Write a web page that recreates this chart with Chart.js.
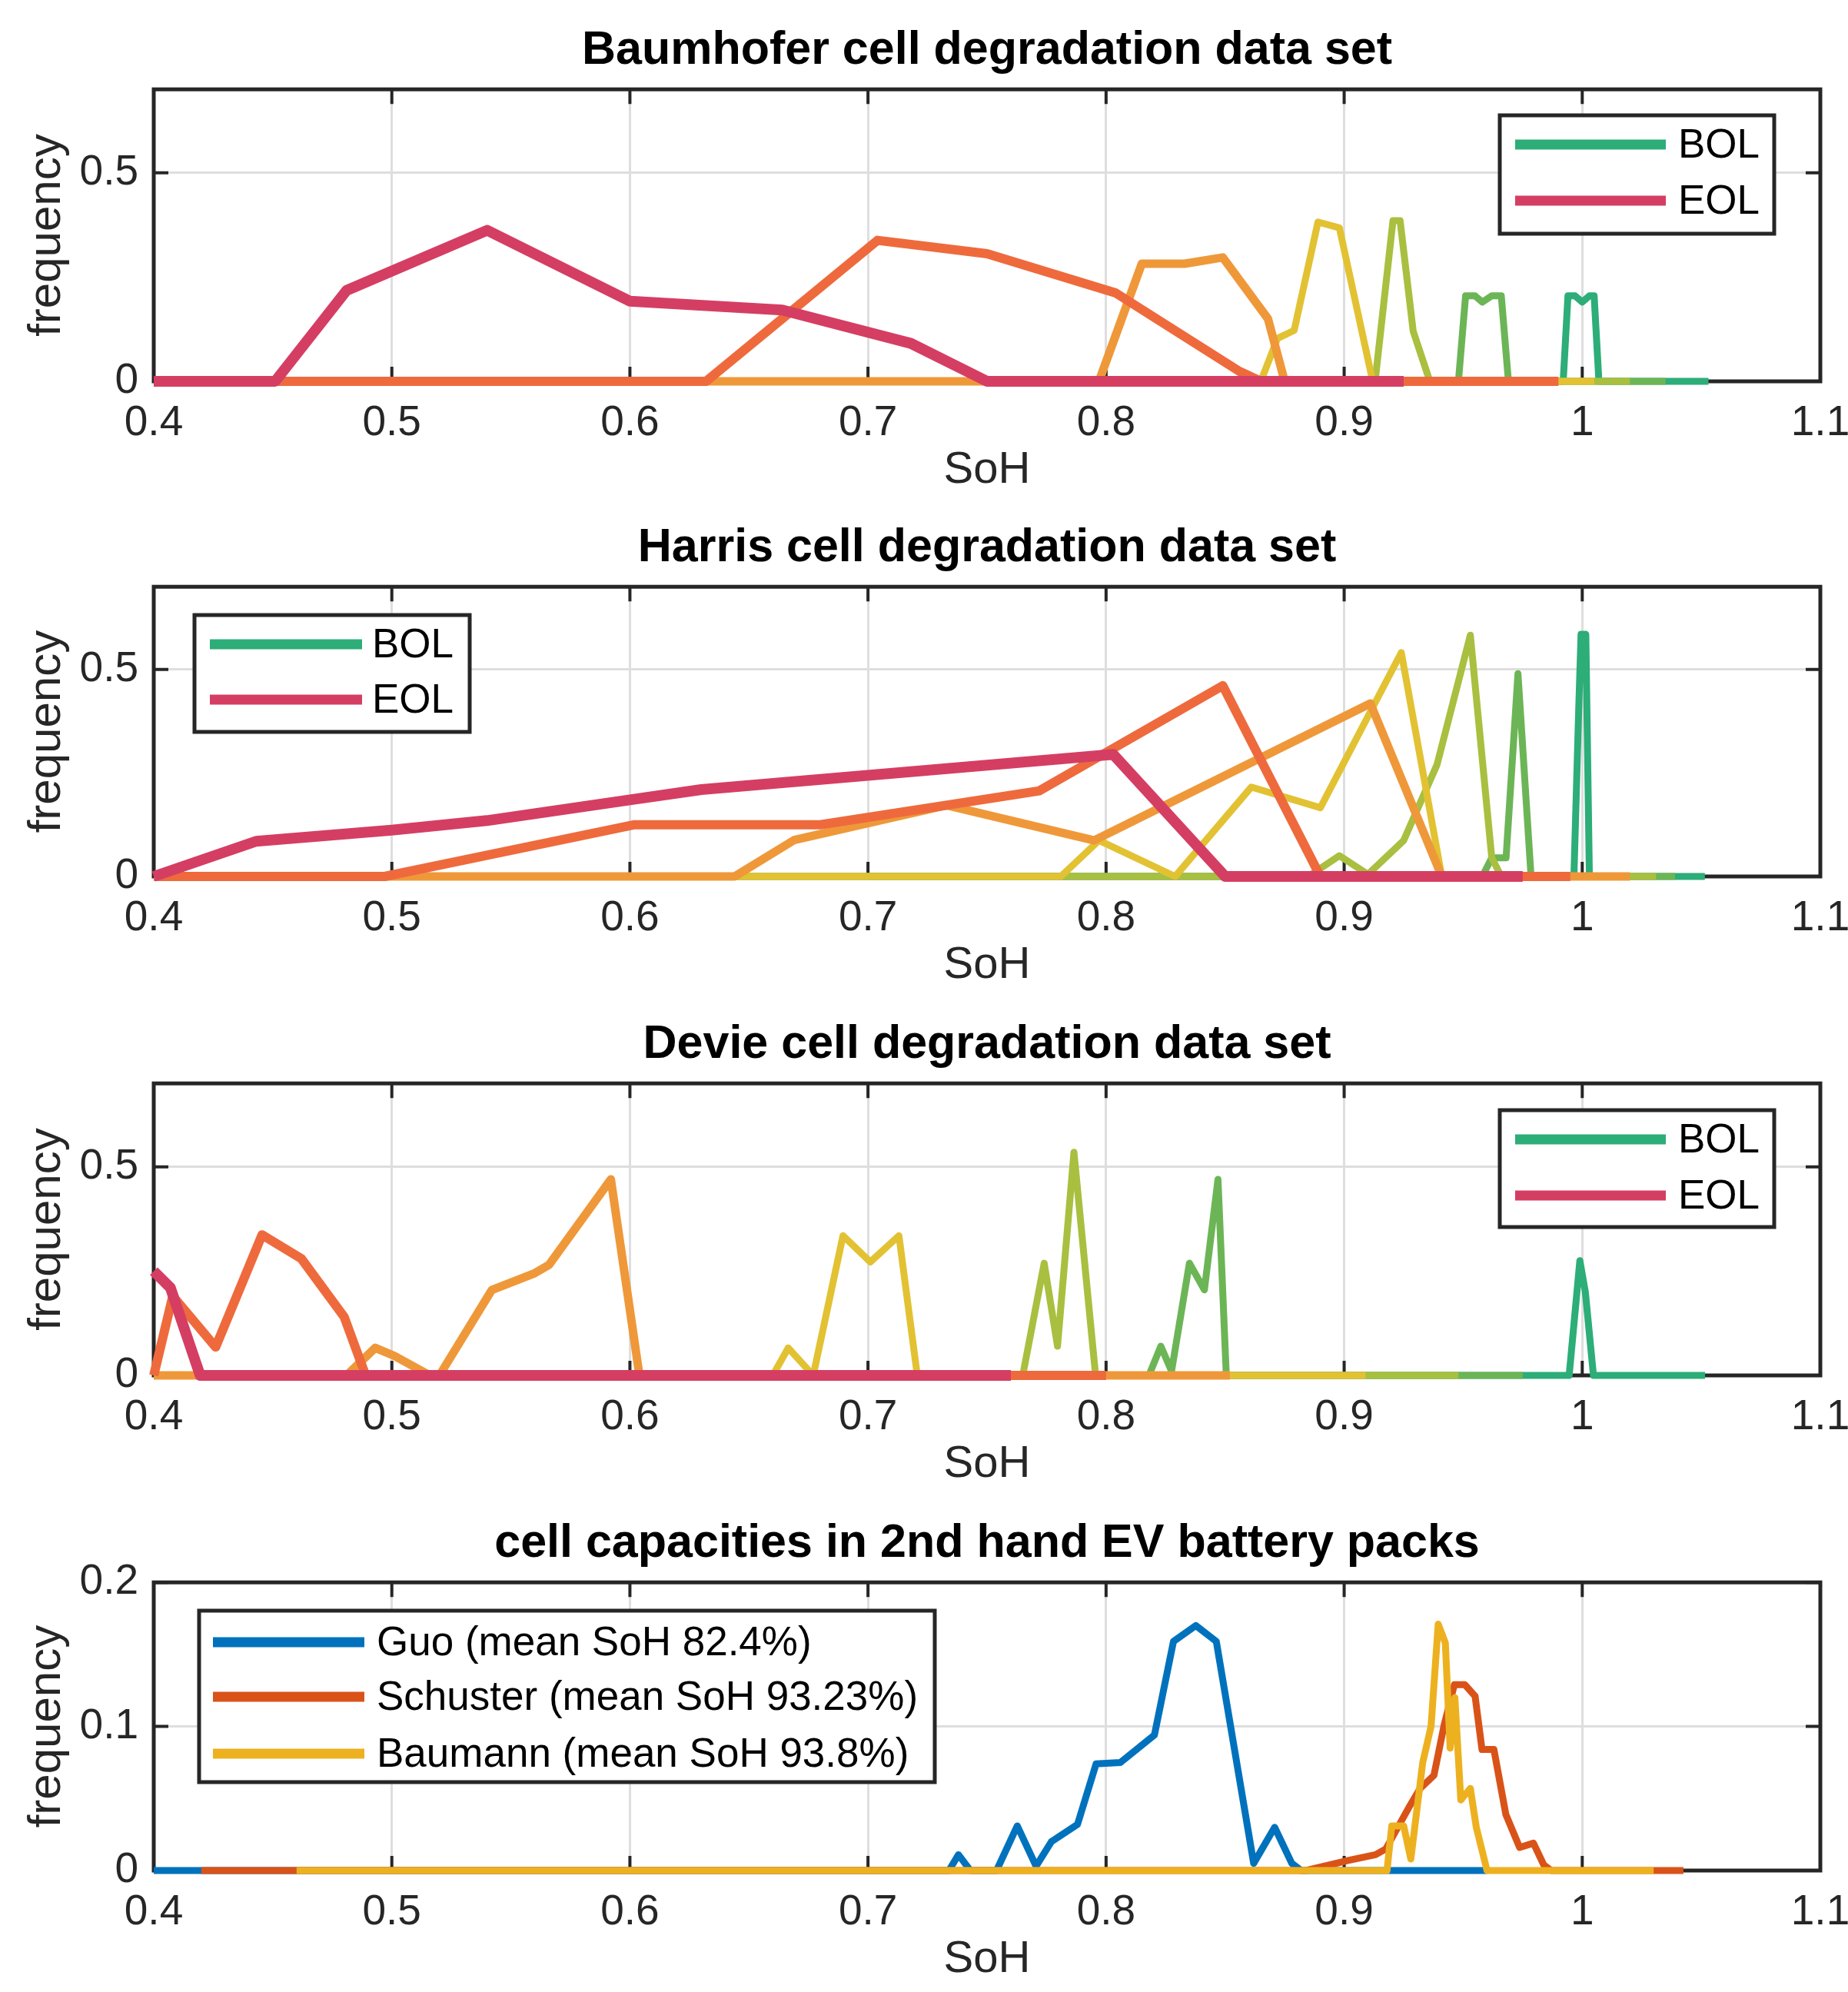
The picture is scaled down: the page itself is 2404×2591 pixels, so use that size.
<!DOCTYPE html>
<html>
<head>
<meta charset="utf-8">
<script src="https://cdn.jsdelivr.net/npm/chart.js@4/dist/chart.umd.min.js"></script>
<style>
html, body { margin:0; padding:0; background:#ffffff; overflow:hidden; width:2404px; height:2591px; }
canvas { position:absolute; left:0; }
</style>
</head>
<body>
<canvas id="c1" width="2404" height="700" style="top:0px"></canvas>
<canvas id="c2" width="2404" height="700" style="top:647px"></canvas>
<canvas id="c3" width="2404" height="700" style="top:1293px"></canvas>
<canvas id="c4" width="2404" height="700" style="top:1942px"></canvas>
<script>
// ================= DATA =================
const xTickValues = [0.4, 0.5, 0.6, 0.7, 0.8, 0.9, 1.0, 1.1];
const xTickLabels = ['0.4', '0.5', '0.6', '0.7', '0.8', '0.9', '1', '1.1'];
const yTickValuesDeg = [0, 0.5];
const yTickLabelsDeg = ['0', '0.5'];
const yTickValuesEV = [0, 0.1, 0.2];
const yTickLabelsEV = ['0', '0.1', '0.2'];

const panelTitles = [
  'Baumhofer cell degradation data set',
  'Harris cell degradation data set',
  'Devie cell degradation data set',
  'cell capacities in 2nd hand EV battery packs'
];
const xAxisLabel = 'SoH';
const yAxisLabel = 'frequency';
const degLegendLabels = ['BOL', 'EOL'];
const evSeriesLabels = ['Guo (mean SoH 82.4%)', 'Schuster (mean SoH 93.23%)', 'Baumann (mean SoH 93.8%)'];

// --- Baumhofer ---
const baumEOL_x = [0.400, 0.451, 0.481, 0.540, 0.600, 0.664, 0.718, 0.750, 0.925];
const baumEOL_y = [0, 0, 0.218, 0.362, 0.192, 0.171, 0.091, 0, 0];
const baumS2_x  = [0.420, 0.632, 0.704, 0.750, 0.804, 0.856, 0.865, 0.990];
const baumS2_y  = [0, 0, 0.338, 0.306, 0.212, 0.024, 0, 0];
const baumS3_x  = [0.500, 0.797, 0.815, 0.833, 0.849, 0.868, 0.875, 0.985];
const baumS3_y  = [0, 0, 0.282, 0.282, 0.297, 0.150, 0, 0];
const baumS4_x  = [0.600, 0.865, 0.872, 0.879, 0.889, 0.898, 0.912, 1.005];
const baumS4_y  = [0, 0, 0.103, 0.122, 0.382, 0.368, 0, 0];
const baumS5_x  = [0.700, 0.913, 0.9205, 0.9235, 0.929, 0.936, 1.020];
const baumS5_y  = [0, 0, 0.385, 0.385, 0.120, 0, 0];
const baumS6_x  = [0.750, 0.948, 0.951, 0.955, 0.958, 0.962, 0.966, 0.969, 1.035];
const baumS6_y  = [0, 0, 0.205, 0.205, 0.190, 0.205, 0.205, 0, 0];
const baumBOL_x = [0.800, 0.992, 0.994, 0.997, 1.000, 1.003, 1.005, 1.007, 1.053];
const baumBOL_y = [0, 0, 0.205, 0.205, 0.190, 0.205, 0.205, 0, 0];

// --- Harris ---
const harrisEOL_x = [0.400, 0.443, 0.500, 0.540, 0.600, 0.630, 0.803, 0.850, 0.975];
const harrisEOL_y = [0, 0.085, 0.112, 0.135, 0.185, 0.210, 0.295, 0, 0];
const harrisS2_x  = [0.400, 0.497, 0.602, 0.680, 0.772, 0.849, 0.890, 0.995];
const harrisS2_y  = [0, 0, 0.125, 0.125, 0.207, 0.461, 0, 0];
const harrisS3_x  = [0.450, 0.644, 0.669, 0.733, 0.795, 0.911, 0.941, 1.020];
const harrisS3_y  = [0, 0, 0.088, 0.172, 0.087, 0.418, 0, 0];
const harrisS4_x  = [0.500, 0.781, 0.797, 0.829, 0.861, 0.890, 0.924, 0.941, 1.010];
const harrisS4_y  = [0, 0, 0.087, 0, 0.216, 0.166, 0.541, 0, 0];
const harrisS5_x  = [0.550, 0.885, 0.898, 0.910, 0.925, 0.939, 0.953, 0.962, 0.966, 1.031];
const harrisS5_y  = [0, 0, 0.050, 0.005, 0.087, 0.270, 0.583, 0.045, 0, 0];
const harrisS6_x  = [0.600, 0.958, 0.962, 0.968, 0.973, 0.9785, 1.039];
const harrisS6_y  = [0, 0, 0.045, 0.045, 0.490, 0, 0];
const harrisBOL_x = [0.700, 0.9965, 0.9985, 0.9995, 1.0015, 1.003, 1.0515];
const harrisBOL_y = [0, 0, 0.400, 0.585, 0.585, 0, 0];

// --- Devie ---
const devieEOL_x = [0.400, 0.407, 0.4195, 0.760];
const devieEOL_y = [0.250, 0.210, 0, 0];
const devieS2_x  = [0.400, 0.408, 0.426, 0.4455, 0.462, 0.480, 0.489, 0.800];
const devieS2_y  = [0, 0.190, 0.068, 0.337, 0.280, 0.140, 0, 0];
const devieS3_x  = [0.400, 0.481, 0.493, 0.501, 0.516, 0.520, 0.542, 0.560, 0.566, 0.592, 0.604, 0.852];
const devieS3_y  = [0, 0, 0.066, 0.047, 0, 0, 0.205, 0.245, 0.265, 0.470, 0, 0];
const devieS4_x  = [0.400, 0.660, 0.6665, 0.677, 0.6895, 0.701, 0.713, 0.7207, 0.909];
const devieS4_y  = [0, 0, 0.066, 0, 0.335, 0.272, 0.335, 0, 0];
const devieS5_x  = [0.400, 0.765, 0.774, 0.7796, 0.7865, 0.7956, 0.948];
const devieS5_y  = [0, 0, 0.269, 0.070, 0.535, 0, 0];
const devieS6_x  = [0.400, 0.818, 0.823, 0.8275, 0.835, 0.8413, 0.847, 0.8505, 0.975];
const devieS6_y  = [0, 0, 0.070, 0.010, 0.269, 0.205, 0.470, 0, 0];
const devieBOL_x = [0.500, 0.9945, 0.999, 1.0013, 1.0047, 1.0516];
const devieBOL_y = [0, 0, 0.275, 0.200, 0, 0];

// --- 2nd hand EV packs ---
const guo_x = [0.400, 0.734, 0.738, 0.743, 0.754, 0.7627, 0.7706, 0.777, 0.788, 0.7958, 0.806, 0.8203, 0.8283, 0.8377, 0.8463, 0.862, 0.8708, 0.878, 0.882, 0.960];
const guo_y = [0, 0, 0.011, 0, 0, 0.031, 0.003, 0.020, 0.032, 0.074, 0.075, 0.094, 0.159, 0.170, 0.159, 0.005, 0.030, 0.005, 0, 0];
const schuster_x = [0.420, 0.884, 0.9017, 0.9132, 0.9175, 0.9276, 0.9319, 0.9377, 0.942, 0.9463, 0.9507, 0.955, 0.9579, 0.9629, 0.9679, 0.9737, 0.9795, 0.9838, 0.987, 1.0425];
const schuster_y = [0, 0, 0.007, 0.011, 0.015, 0.045, 0.057, 0.066, 0.101, 0.129, 0.129, 0.121, 0.084, 0.084, 0.039, 0.016, 0.019, 0.004, 0, 0];
const baumann_x = [0.460, 0.918, 0.920, 0.925, 0.928, 0.933, 0.9365, 0.9395, 0.9425, 0.9445, 0.9465, 0.949, 0.953, 0.9555, 0.960, 1.030];
const baumann_y = [0, 0, 0.031, 0.031, 0.008, 0.075, 0.100, 0.171, 0.158, 0.085, 0.120, 0.049, 0.057, 0.030, 0, 0];

// ================= STYLE =================
const FONT = "'Liberation Sans', Arial, Helvetica, sans-serif";
const AX = '#262626';
const C = { eol:'#D53E63', s2:'#EE6A3D', s3:'#EF983A', s4:'#E2C233', s5:'#A9BF40', s6:'#6CB556', bol:'#2DAD78',
            guo:'#0072BD', schuster:'#D95319', baumann:'#EDB120' };
const W = { eol:14, s2:12, s3:11, s4:9, s5:9, s6:9, bol:9, ev:9 };

function series(xs, ys, color, width, label) {
  return {
    label: label || '',
    data: xs.map((x, i) => ({ x: x, y: ys[i] })),
    borderColor: color, backgroundColor: color,
    borderWidth: width, showLine: true, pointRadius: 0, pointHoverRadius: 0,
    fill: false, tension: 0, clip: false, borderJoinStyle: 'round'
  };
}

const framePlugin = {
  id: 'matlabFrame',
  beforeDatasetsDraw(chart) {
    const { ctx, chartArea: a } = chart;
    const xs = chart.scales.x, ys = chart.scales.y;
    ctx.save();
    ctx.strokeStyle = AX;
    ctx.lineWidth = 5;
    ctx.strokeRect(a.left, a.top, a.right - a.left, a.bottom - a.top);
    ctx.lineWidth = 4;
    const tl = 19;
    ctx.beginPath();
    xs.ticks.forEach(t => {
      const p = xs.getPixelForValue(t.value);
      ctx.moveTo(p, a.bottom); ctx.lineTo(p, a.bottom - tl);
      ctx.moveTo(p, a.top); ctx.lineTo(p, a.top + tl);
    });
    ys.ticks.forEach(t => {
      const p = ys.getPixelForValue(t.value);
      ctx.moveTo(a.left, p); ctx.lineTo(a.left + tl, p);
      ctx.moveTo(a.right, p); ctx.lineTo(a.right - tl, p);
    });
    ctx.stroke();
    ctx.restore();
  }
};

function legendPlugin(spec) {
  return {
    id: 'boxLegend',
    afterDatasetsDraw(chart) {
      const ctx = chart.ctx;
      const b = spec.box;
      ctx.save();
      ctx.fillStyle = '#ffffff';
      ctx.fillRect(b.x, b.y, b.w, b.h);
      ctx.strokeStyle = AX; ctx.lineWidth = 5;
      ctx.strokeRect(b.x, b.y, b.w, b.h);
      spec.entries.forEach((idx, i) => {
        const ds = chart.data.datasets[idx];
        const yy = b.y + spec.rowY[i];
        ctx.strokeStyle = ds.borderColor; ctx.lineWidth = 13; ctx.lineCap = 'butt';
        ctx.beginPath(); ctx.moveTo(b.x + spec.lineX0, yy); ctx.lineTo(b.x + spec.lineX1, yy); ctx.stroke();
        ctx.fillStyle = '#000000';
        ctx.font = spec.fontSize + 'px ' + FONT;
        ctx.textAlign = 'left'; ctx.textBaseline = 'middle';
        ctx.fillText(ds.label, b.x + spec.textX, yy + 2);
      });
      ctx.restore();
    }
  };
}

function makePanel(id, title, datasets, yMax, yTicks, yLabels, bottomRel, legend) {
  const xHeight = 700 - bottomRel;
  const titlePadBottom = 700 - 17.4 - (bottomRel + 133);
  return new Chart(document.getElementById(id), {
    type: 'scatter',
    data: { datasets: datasets },
    options: {
      responsive: false, animation: false, devicePixelRatio: 1, events: [],
      layout: { padding: { top: 30, left: 0, right: 36, bottom: 0 } },
      plugins: {
        legend: { display: false }, tooltip: { enabled: false },
        title: { display: true, text: title, fullSize: false, color: '#000000',
                 font: { family: FONT, size: 61, weight: 'bold', lineHeight: 1.2 },
                 padding: { top: 0, bottom: 13 } }
      },
      scales: {
        x: {
          type: 'linear', position: 'bottom', min: 0.4, max: 1.1,
          afterBuildTicks: s => { s.ticks = xTickValues.map(v => ({ value: v })); },
          afterFit: s => { s.height = xHeight; s.paddingLeft = 0; s.paddingRight = 0; },
          ticks: { autoSkip: false, maxRotation: 0, minRotation: 0, padding: 22, color: AX,
                   font: { family: FONT, size: 55, lineHeight: 1.2 },
                   callback: (v, i) => xTickLabels[i] },
          grid: { color: '#DEDEDE', lineWidth: 3, drawTicks: false },
          border: { display: false },
          title: { display: true, text: xAxisLabel, color: AX,
                   font: { family: FONT, size: 58, lineHeight: 1.2 },
                   padding: { top: 0, bottom: titlePadBottom } }
        },
        y: {
          type: 'linear', min: 0, max: yMax,
          afterBuildTicks: s => { s.ticks = yTicks.map(v => ({ value: v })); },
          afterFit: s => { s.width = 200; s.paddingTop = 0; s.paddingBottom = 0; },
          ticks: { autoSkip: false, padding: 20, color: AX,
                   font: { family: FONT, size: 55, lineHeight: 1.2 },
                   callback: (v, i) => yLabels[i] },
          grid: { color: '#DEDEDE', lineWidth: 3, drawTicks: false },
          border: { display: false },
          title: { display: true, text: yAxisLabel, color: AX,
                   font: { family: FONT, size: 60, lineHeight: 1.2 },
                   padding: { top: 25, bottom: 0 } }
        }
      }
    },
    plugins: [framePlugin, legendPlugin(legend)]
  });
}

// Dataset index 0 is drawn on top in Chart.js, so EOL goes first and BOL last.
makePanel('c1', panelTitles[0], [
  series(baumEOL_x, baumEOL_y, C.eol, W.eol, degLegendLabels[1]),
  series(baumS2_x, baumS2_y, C.s2, W.s2),
  series(baumS3_x, baumS3_y, C.s3, W.s3),
  series(baumS4_x, baumS4_y, C.s4, W.s4),
  series(baumS5_x, baumS5_y, C.s5, W.s5),
  series(baumS6_x, baumS6_y, C.s6, W.s6),
  series(baumBOL_x, baumBOL_y, C.bol, W.bol, degLegendLabels[0])
], 0.7, yTickValuesDeg, yTickLabelsDeg, 496,
{ box: { x: 1951, y: 150, w: 357, h: 154 }, entries: [6, 0], rowY: [38, 111], lineX0: 20, lineX1: 216, textX: 232, fontSize: 53 });

makePanel('c2', panelTitles[1], [
  series(harrisEOL_x, harrisEOL_y, C.eol, W.eol, degLegendLabels[1]),
  series(harrisS2_x, harrisS2_y, C.s2, W.s2),
  series(harrisS3_x, harrisS3_y, C.s3, W.s3),
  series(harrisS4_x, harrisS4_y, C.s4, W.s4),
  series(harrisS5_x, harrisS5_y, C.s5, W.s5),
  series(harrisS6_x, harrisS6_y, C.s6, W.s6),
  series(harrisBOL_x, harrisBOL_y, C.bol, W.bol, degLegendLabels[0])
], 0.7, yTickValuesDeg, yTickLabelsDeg, 493,
{ box: { x: 253, y: 153, w: 358, h: 152 }, entries: [6, 0], rowY: [38, 110], lineX0: 20, lineX1: 218, textX: 231, fontSize: 53 });

makePanel('c3', panelTitles[2], [
  series(devieEOL_x, devieEOL_y, C.eol, W.eol, degLegendLabels[1]),
  series(devieS2_x, devieS2_y, C.s2, W.s2),
  series(devieS3_x, devieS3_y, C.s3, W.s3),
  series(devieS4_x, devieS4_y, C.s4, W.s4),
  series(devieS5_x, devieS5_y, C.s5, W.s5),
  series(devieS6_x, devieS6_y, C.s6, W.s6),
  series(devieBOL_x, devieBOL_y, C.bol, W.bol, degLegendLabels[0])
], 0.7, yTickValuesDeg, yTickLabelsDeg, 496,
{ box: { x: 1951, y: 151, w: 357, h: 152 }, entries: [6, 0], rowY: [38, 111], lineX0: 20, lineX1: 216, textX: 232, fontSize: 53 });

makePanel('c4', panelTitles[3], [
  series(baumann_x, baumann_y, C.baumann, W.ev, evSeriesLabels[2]),
  series(schuster_x, schuster_y, C.schuster, W.ev, evSeriesLabels[1]),
  series(guo_x, guo_y, C.guo, W.ev, evSeriesLabels[0])
], 0.2, yTickValuesEV, yTickLabelsEV, 491,
{ box: { x: 259, y: 153, w: 957, h: 223 }, entries: [2, 1, 0], rowY: [41, 112, 186], lineX0: 18, lineX1: 215, textX: 231, fontSize: 53 });
</script>
</body>
</html>
